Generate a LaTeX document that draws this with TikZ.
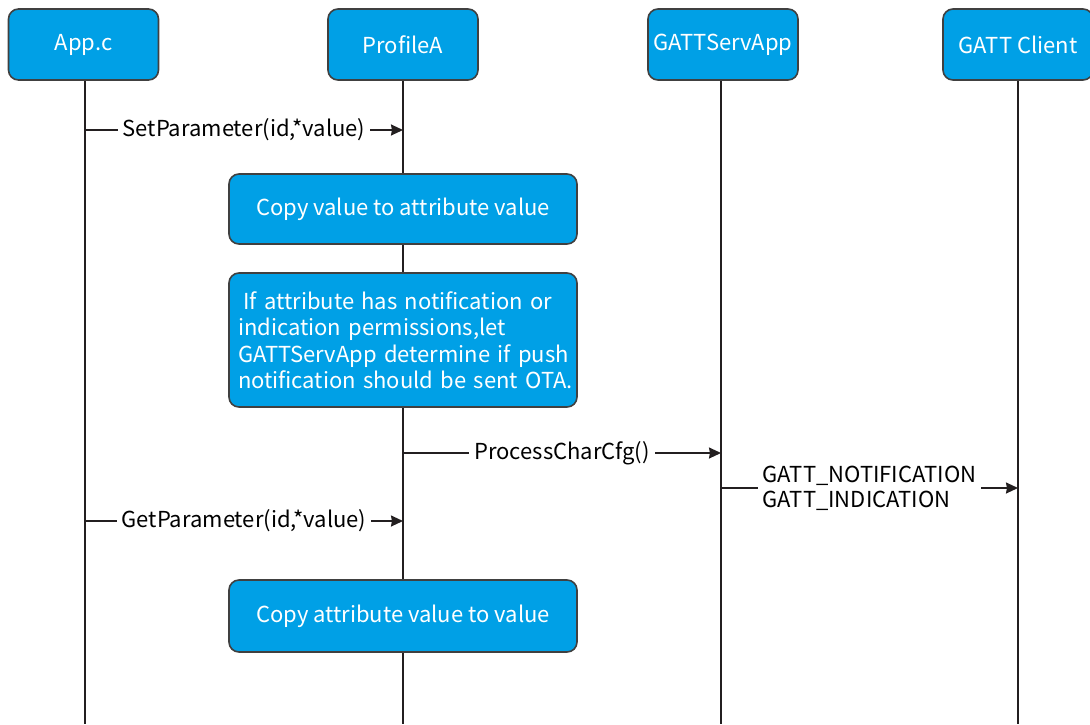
\documentclass[tikz,border=0pt]{standalone}
\usepackage{fontspec}
\setmainfont{Noto Sans CJK SC}
\usetikzlibrary{positioning}
\usetikzlibrary{arrows.meta}
\usetikzlibrary{backgrounds}
\definecolor{boxBlue}{HTML}{00A0E6}
\definecolor{boxEdge}{HTML}{404040}
\definecolor{lineDark}{HTML}{231F20}
\tikzset{headStyle/.style={rectangle, rounded corners=10pt, draw=boxEdge, fill=boxBlue, line width=1.6pt, minimum width=150pt, minimum height=71pt, inner sep=2pt, text=white, font=\fontsize{22}{26}\selectfont}}
\tikzset{stepStyle/.style={headStyle, minimum width=348pt, minimum height=70pt}}
\tikzset{lifeStyle/.style={draw=lineDark, line width=1.6pt}}
\tikzset{msgStyle/.style={-{Stealth[length=12pt,width=11pt,inset=1pt]}, draw=lineDark, line width=1.7pt}}
\tikzset{msgLabel/.style={fill=white, inner sep=5pt, text=black, font=\fontsize{22}{25}\selectfont}}

\begin{document}
\begin{tikzpicture}[x=1pt, y=-1pt]
  \useasboundingbox (0,0) rectangle (1090,724);
  % header nodes
  \node at (83.5, 44.5) [headStyle] (appc) {App.c};
  \node at (403, 44.5) [headStyle] (profile) {ProfileA};
  \node at (723, 44.5) [headStyle] (servapp) {GATTServApp};
  \node at (1018, 44.5) [headStyle] (client) {GATT Client};

  % lifeline ends
  \coordinate (appcEnd) at (85, 724);
  \coordinate (profileEnd) at (profile |- 0,724);
  \coordinate (servappEnd) at (721, 724);
  \coordinate (clientEnd) at (client |- 0,724);

  % steps on ProfileA
  \node at (403, 209) [stepStyle] (copyIn) {Copy value to attribute value};
  \node at (403, 340) [stepStyle, minimum height=134pt, text width=342pt, font=\fontsize{22}{26.5}\selectfont] (notify)
    {\raggedright\leftskip=6pt\hspace*{0.25em}If attribute has notification or\\indication permissions,let\\GATTServApp determine if push\\notification should be sent OTA.\par};
  \node at (403, 616) [stepStyle, minimum height=72pt] (copyOut) {Copy attribute value to value};

  % message points
  \coordinate (setFrom) at (85, 130);
  \coordinate (setTo) at (profile |- 0,130);
  \coordinate (charFrom) at (profile |- 0,453);
  \coordinate (charTo) at (721, 453);
  \coordinate (gattFrom) at (721, 488);
  \coordinate (gattTo) at (client |- 0,488);
  \coordinate (getFrom) at (85, 521);
  \coordinate (getTo) at (profile |- 0,521);

  % messages
  \draw [msgStyle] (setFrom) -- node [msgLabel] (setLbl) {SetParameter(id,*value)} (setTo);
  \draw [msgStyle] (charFrom) -- node [msgLabel] (charLbl) {ProcessCharCfg()} (charTo);
  \draw [msgStyle] (gattFrom) -- node [msgLabel, align=left] (gattLbl) {GATT\_NOTIFICATION\\GATT\_INDICATION} (gattTo);
  \draw [msgStyle] (getFrom) -- node [msgLabel] (getLbl) {GetParameter(id,*value)} (getTo);

  % lifelines
  \begin{scope}[on background layer]
    \draw [lifeStyle] (85, 80) -- (appcEnd);
    \draw [lifeStyle] (profile.south) -- (profileEnd);
    \draw [lifeStyle] (721, 80) -- (servappEnd);
    \draw [lifeStyle] (client.south) -- (clientEnd);
  \end{scope}
\end{tikzpicture}
\end{document}
